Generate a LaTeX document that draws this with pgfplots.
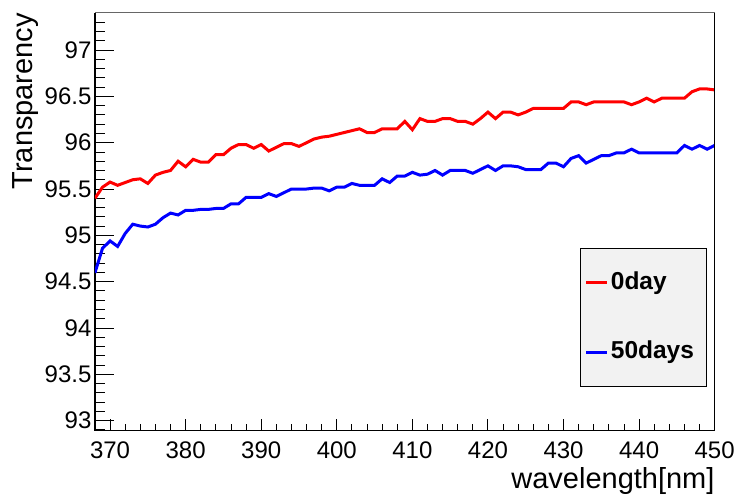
\documentclass[border=0pt]{standalone}
\usepackage{fontspec}
\setmainfont{Liberation Sans}
\usepackage{pgfplots}
\pgfplotsset{compat=1.18}
\begin{document}
\begin{tikzpicture}
\begin{axis}[
  name=ax,
  scale only axis,
  width=620pt, height=418pt,
  xmin=368, xmax=450, ymin=92.89, ymax=97.4,
  axis x line*=bottom, axis y line*=left,
  axis line style={black, line width=1.3pt, -},
  xtick={370,380,...,450},
  ytick={93,93.5,94,94.5,95,95.5,96,96.5,97},
  yticklabels={93,93.5,94,94.5,95,95.5,96,96.5,97},
  minor xtick={368,370,...,450},
  minor ytick={92.9,93.0,93.1,93.2,93.3,93.4,93.5,93.6,93.7,93.8,93.9,94.0,94.1,94.2,94.3,94.4,94.5,94.6,94.7,94.8,94.9,95.0,95.1,95.2,95.3,95.4,95.5,95.6,95.7,95.8,95.9,96.0,96.1,96.2,96.3,96.4,96.5,96.6,96.7,96.8,96.9,97.0,97.1,97.2,97.3},
  tick align=inside,
  xtick style={black, line width=0.9pt, /pgfplots/major tick length=12pt, /pgfplots/minor tick length=7pt},
  ytick style={black, line width=0.9pt, /pgfplots/major tick length=19pt, /pgfplots/minor tick length=10pt},
  /pgf/number format/assume math mode=true,
  ticklabel style={font=\fontsize{24}{24}\selectfont},
  xticklabel style={yshift=-7pt},
  xlabel={wavelength[nm]},
  ylabel={Transparency},
  label style={font=\fontsize{29}{29}\selectfont},
  xlabel style={at={(rel axis cs:1,0)}, anchor=base east, yshift=-58pt, inner sep=0pt},
  ylabel style={at={([xshift=-62pt]rel axis cs:0,1)}, anchor=base east, inner sep=0pt},
  legend image code/.code={\draw[#1] (0pt,0pt) -- (21pt,0pt);},
  legend cell align=left,
  legend style={at={(rel axis cs:0.7834,0.4371)}, anchor=north west, draw=black, line width=1pt, fill=black!5,
    font=\fontsize{24.5}{24.5}\bfseries\selectfont, inner xsep=4pt, inner ysep=21pt, row sep=43pt,
    nodes={inner sep=2pt, text height=17.5pt, text depth=5pt}},
]
\addplot[red, line width=3pt] coordinates {
(368,95.40) (369,95.52) (370,95.575) (371,95.54) (372,95.57) (373,95.60) (374,95.61) (375,95.56)
(376,95.65) (377,95.68) (378,95.70) (379,95.80) (380,95.74) (381,95.82) (382,95.79) (383,95.79)
(384,95.87) (385,95.87) (386,95.94) (387,95.98) (388,95.98) (389,95.94) (390,95.98) (391,95.91)
(392,95.95) (393,95.99) (394,95.99) (395,95.96) (396,96.00) (397,96.04) (398,96.06) (399,96.07)
(400,96.09) (401,96.11) (402,96.13) (403,96.15) (404,96.11) (405,96.11) (406,96.15) (407,96.15)
(408,96.15) (409,96.23) (410,96.14) (411,96.26) (412,96.23) (413,96.23) (414,96.26) (415,96.26)
(416,96.23) (417,96.23) (418,96.20) (419,96.26) (420,96.33) (421,96.26) (422,96.33) (423,96.33)
(424,96.30) (425,96.33) (426,96.37) (427,96.37) (428,96.37) (429,96.37) (430,96.37) (431,96.44)
(432,96.44) (433,96.41) (434,96.44) (435,96.44) (436,96.44) (437,96.44) (438,96.44) (439,96.41)
(440,96.44) (441,96.48) (442,96.44) (443,96.48) (444,96.48) (445,96.48) (446,96.48) (447,96.55)
(448,96.58) (449,96.58) (450,96.57)
};
\addlegendentry{0day}
\addplot[blue, line width=3pt] coordinates {
(368,94.595) (369,94.86) (370,94.94) (371,94.88) (372,95.02) (373,95.12) (374,95.10) (375,95.09)
(376,95.12) (377,95.19) (378,95.24) (379,95.22) (380,95.27) (381,95.27) (382,95.28) (383,95.28)
(384,95.29) (385,95.29) (386,95.34) (387,95.34) (388,95.41) (389,95.41) (390,95.41) (391,95.45)
(392,95.42) (393,95.46) (394,95.50) (395,95.50) (396,95.50) (397,95.51) (398,95.51) (399,95.48)
(400,95.52) (401,95.52) (402,95.56) (403,95.54) (404,95.54) (405,95.54) (406,95.61) (407,95.57)
(408,95.64) (409,95.64) (410,95.68) (411,95.65) (412,95.66) (413,95.70) (414,95.65) (415,95.70)
(416,95.70) (417,95.70) (418,95.67) (419,95.71) (420,95.75) (421,95.70) (422,95.75) (423,95.75)
(424,95.74) (425,95.71) (426,95.71) (427,95.71) (428,95.78) (429,95.78) (430,95.74) (431,95.83)
(432,95.86) (433,95.78) (434,95.82) (435,95.86) (436,95.86) (437,95.89) (438,95.89) (439,95.93)
(440,95.89) (441,95.89) (442,95.89) (443,95.89) (444,95.89) (445,95.89) (446,95.97) (447,95.93)
(448,95.97) (449,95.93) (450,95.97)
};
\addlegendentry{50days\rule{7pt}{0pt}}
\end{axis}
\draw[black!60, line width=1pt] (ax.north west) -- (ax.north east);
\draw[black, line width=1pt] (ax.north east) -- (ax.south east);
\path ([xshift=-95pt,yshift=-66pt]ax.south west) rectangle ([xshift=23pt,yshift=13pt]ax.north east);
\end{tikzpicture}
\end{document}
